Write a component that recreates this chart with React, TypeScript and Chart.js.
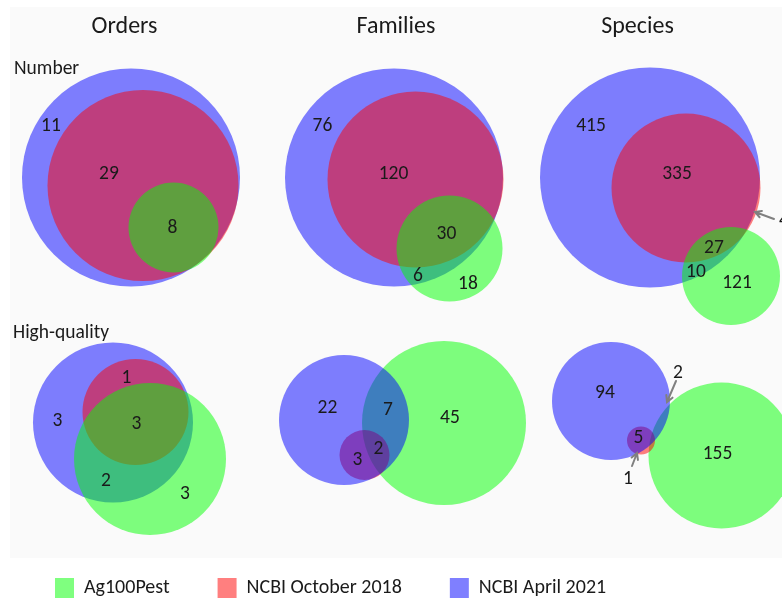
import React, { useEffect, useRef } from "react";
import { Chart, registerables } from "chart.js";

Chart.register(...registerables);

// ---------- data ----------
const setNames = ["Ag100Pest", "NCBI October 2018", "NCBI April 2021"];
const columnTitles = ["Orders", "Families", "Species"];
const rowTitles = ["Number", "High-quality"];

// counts shown in the Venn regions
const ordersNumberCounts = [11, 29, 8];
const familiesNumberCounts = [76, 120, 30, 6, 18];
const speciesNumberCounts = [415, 335, 27, 10, 121, 4];
const ordersHQCounts = [1, 3, 3, 2, 3];
const familiesHQCounts = [22, 7, 45, 3, 2];
const speciesHQCounts = [94, 5, 155, 2, 1];

// ---------- diagram geometry (diagram units, mapped by the chart scales) ----------
// circles per set in order: Ag100Pest, NCBI October 2018, NCBI April 2021 -> [cx, cy, radius]
const ordersNumberCircles = [[173.5, 227.5, 45], [143, 185.5, 95.5], [131, 177.5, 109]];
const familiesNumberCircles = [[449.5, 248.5, 53], [415.5, 179.5, 88], [394, 177.5, 109]];
const speciesNumberCircles = [[731, 276, 49], [686, 188, 74.5], [650, 177.5, 110]];
const ordersHQCircles = [[150, 459, 76], [135.5, 412, 53], [113, 422.5, 80]];
const familiesHQCircles = [[444, 423, 82], [364.5, 455, 25], [344, 420, 65]];
const speciesHQCircles = [[721.5, 455.5, 73], [641, 440.5, 14], [611, 401, 59]];

// label anchors (same order as the counts)
const ordersNumberLabelAt = [[51, 125], [109, 173], [172.5, 227]];
const familiesNumberLabelAt = [[322.5, 125], [393.5, 173], [446.5, 233], [418, 275], [468, 283]];
const speciesNumberLabelAt = [[591, 124.5], [677, 173], [714, 247], [696, 271], [737, 282], [784, 220]];
const ordersHQLabelAt = [[126.5, 377], [57.5, 420], [136.5, 423], [106, 480], [185, 493]];
const familiesHQLabelAt = [[327.5, 407], [388, 409], [450, 417], [357.5, 459], [378.5, 448]];
const speciesHQLabelAt = [[605, 392], [638.5, 437], [717.5, 453], [678, 372], [628, 478]];

// pointer arrows [tailX, tailY, tipX, tipY]
const pointerArrows = [[774, 219, 755, 212], [676, 381, 667, 402], [632, 466, 637, 453]];

const columnTitleAt = [[124.5, 32.5], [396, 32.5], [637.5, 32.5]];
const rowTitleAt = [[14, 74.3], [13, 338]];

const setColors = ["rgba(0,255,0,0.5)", "rgba(255,0,0,0.5)", "rgba(0,0,255,0.5)"];

const panels = [
  { circles: ordersNumberCircles, counts: ordersNumberCounts, at: ordersNumberLabelAt, greenOnTop: true },
  { circles: familiesNumberCircles, counts: familiesNumberCounts, at: familiesNumberLabelAt, greenOnTop: true },
  { circles: speciesNumberCircles, counts: speciesNumberCounts, at: speciesNumberLabelAt, greenOnTop: true },
  { circles: ordersHQCircles, counts: ordersHQCounts, at: ordersHQLabelAt, greenOnTop: true },
  { circles: familiesHQCircles, counts: familiesHQCounts, at: familiesHQLabelAt, greenOnTop: false },
  { circles: speciesHQCircles, counts: speciesHQCounts, at: speciesHQLabelAt, greenOnTop: false },
];

const FONT = "Carlito, 'Liberation Sans', sans-serif";

function buildDatasets() {
  const pts = (greenOnTop: boolean, s: number) =>
    panels
      .filter((p) => p.greenOnTop === greenOnTop)
      .map((p) => ({ x: p.circles[s][0], y: p.circles[s][1], rad: p.circles[s][2], r: 0 }));
  // dataset index 0 is painted last (on top)
  const order: [boolean, number][] = [
    [true, 0], [true, 1], [true, 2],
    [false, 2], [false, 1], [false, 0],
  ];
  return order.map(([g, s]) => ({
    label: setNames[s],
    data: pts(g, s),
    backgroundColor: setColors[s],
    borderColor: setColors[s],
    borderWidth: 0,
    clip: false as any,
  }));
}

// convert the circle radius (diagram units) to bubble pixel radius using the x scale
function applyRadii(chart: any) {
  const sc = chart.scales.x;
  chart.data.datasets.forEach((ds: any) => {
    ds.data.forEach((d: any) => {
      d.r = Math.abs(sc.getPixelForValue(d.x + d.rad) - sc.getPixelForValue(d.x));
    });
  });
}

const annotations = {
  id: "vennAnnotations",
  beforeDraw(chart: any) {
    const { ctx, width, height } = chart;
    ctx.save();
    ctx.fillStyle = "#ffffff";
    ctx.fillRect(0, 0, width, height);
    ctx.fillStyle = "#fafafa";
    ctx.fillRect(10, 7, width - 10, 551);
    ctx.restore();
  },
  afterDatasetsDraw(chart: any) {
    const { ctx } = chart;
    const xs = chart.scales.x;
    const ys = chart.scales.y;
    const X = (v: number) => xs.getPixelForValue(v);
    const Y = (v: number) => ys.getPixelForValue(v);
    ctx.save();
    ctx.fillStyle = "#1a1a1a";
    ctx.textBaseline = "alphabetic";

    // column titles
    ctx.font = `24px ${FONT}`;
    ctx.textAlign = "center";
    columnTitles.forEach((t, i) => ctx.fillText(t, X(columnTitleAt[i][0]), Y(columnTitleAt[i][1])));

    // row titles
    ctx.font = `19.5px ${FONT}`;
    ctx.textAlign = "left";
    rowTitles.forEach((t, i) => ctx.fillText(t, X(rowTitleAt[i][0]), Y(rowTitleAt[i][1])));

    // region counts
    ctx.font = `19.5px ${FONT}`;
    ctx.textAlign = "center";
    panels.forEach((p) => {
      p.counts.forEach((c, i) => {
        ctx.fillText(String(c), X(p.at[i][0]), Y(p.at[i][1]) + 6);
      });
    });

    // pointer arrows
    ctx.strokeStyle = "#808080";
    ctx.lineWidth = 2;
    ctx.lineCap = "round";
    pointerArrows.forEach(([x1, y1, x2, y2]) => {
      const ax = X(x1), ay = Y(y1), bx = X(x2), by = Y(y2);
      const ang = Math.atan2(by - ay, bx - ax);
      const hl = 7;
      ctx.beginPath();
      ctx.moveTo(ax, ay);
      ctx.lineTo(bx, by);
      ctx.moveTo(bx - hl * Math.cos(ang - 0.5), by - hl * Math.sin(ang - 0.5));
      ctx.lineTo(bx, by);
      ctx.lineTo(bx - hl * Math.cos(ang + 0.5), by - hl * Math.sin(ang + 0.5));
      ctx.stroke();
    });
    ctx.restore();
  },
};

export default function App() {
  const ref = useRef<HTMLCanvasElement>(null);
  useEffect(() => {
    const chart = new Chart(ref.current!, {
      type: "bubble",
      data: { datasets: buildDatasets() as any },
      options: {
        animation: false,
        responsive: false,
        devicePixelRatio: 1,
        events: [],
        layout: { autoPadding: false, padding: { left: 7, right: 0, top: 0, bottom: 0 } },
        scales: {
          x: { type: "linear", min: 7, max: 782, display: false },
          y: { type: "linear", min: 0, max: 530, reverse: true, display: false },
        },
        plugins: {
          tooltip: { enabled: false },
          title: { display: false },
          legend: {
            display: true,
            position: "bottom",
            align: "start",
            labels: {
              filter: (item: any) => item.datasetIndex < 3,
              boxWidth: 19,
              boxHeight: 20,
              padding: 48,
              color: "#1a1a1a",
              font: { family: FONT, size: 20 },
            },
          },
        },
      },
      plugins: [annotations],
    });
    applyRadii(chart);
    chart.update();
    return () => chart.destroy();
  }, []);
  return (
    <div style={{ position: "fixed", left: 0, top: 0, width: 782, height: 608 }}>
      <canvas ref={ref} width={782} height={608} style={{ width: 782, height: 608 }} />
    </div>
  );
}
